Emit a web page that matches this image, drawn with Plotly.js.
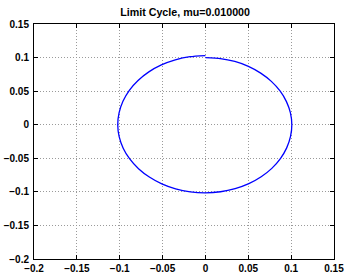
<!DOCTYPE html>
<html>
<head>
<meta charset="utf-8">
<script src="https://cdn.plot.ly/plotly-3.0.1.min.js"></script>
<style>html,body{margin:0;padding:0;background:#fff;}#chart{width:346px;height:273px;}</style>
</head>
<body>
<div id="chart"></div>
<script>
// Trajectory (x, dx/dt), clockwise from the top
var xs = [0, 0.01738, 0.03427, 0.05015, 0.06447, 0.07691, 0.08704, 0.09453, 0.09917, 0.1008,
  0.09927, 0.09481, 0.08747, 0.07745, 0.06505, 0.05065, 0.03465, 0.01761, 0,
  -0.01764, -0.03478, -0.0509, -0.06544, -0.07806, -0.08833, -0.09594, -0.10065, -0.1023,
  -0.10075, -0.09622, -0.08877, -0.0786, -0.06601, -0.0514, -0.03516, -0.01787, 0];
var ys = [0.1000, 0.09858, 0.09416, 0.08686, 0.07683, 0.06454, 0.05025, 0.03441, 0.01749, 0,
  -0.01750, -0.03451, -0.0505, -0.06499, -0.07752, -0.08773, -0.09519, -0.09986, -0.1015,
  -0.10006, -0.09557, -0.08816, -0.07798, -0.0655, -0.051, -0.03492, -0.01775, 0,
  0.01776, 0.03502, 0.05125, 0.06595, 0.07867, 0.08903, 0.0966, 0.10134, 0.1030];
var titleText = "Limit Cycle, mu=0.010000";
var tickVals = [-0.2, -0.15, -0.1, -0.05, 0, 0.05, 0.1, 0.15];
var tickText = ["\u22120.2", "\u22120.15", "\u22120.1", "\u22120.05", "0", "0.05", "0.1", "0.15"];

var fam = "Liberation Sans, Arial, Helvetica, sans-serif";
var fnt = {family: fam, size: 10, color: "#000", weight: "bold"};
var axisCommon = {
  range: [-0.2, 0.15],
  tickvals: tickVals,
  ticktext: tickText,
  ticks: "inside",
  ticklen: 4,
  tickwidth: 1,
  tickcolor: "#000",
  showline: true,
  linecolor: "#000",
  linewidth: 1,
  mirror: "ticks",
  showgrid: true,
  gridcolor: "#9a9a9a",
  griddash: "1px,2px",
  gridwidth: 1,
  zeroline: false,
  tickfont: fnt,
  fixedrange: true
};
var xaxis = Object.assign({}, axisCommon, {ticklabelstandoff: 0});
var yaxis = Object.assign({}, axisCommon, {ticklabelstandoff: 2});

Plotly.newPlot("chart", [{
  x: xs, y: ys, type: "scatter", mode: "lines",
  line: {color: "#0000ff", width: 1.3, shape: "spline", smoothing: 0.6},
  hoverinfo: "none"
}], {
  width: 346, height: 273,
  margin: {l: 34, r: 12, t: 24, b: 14, pad: 0},
  paper_bgcolor: "#fff", plot_bgcolor: "#fff",
  showlegend: false,
  title: {text: titleText, font: {family: fam, size: 10.7, color: "#000", weight: "bold"}, x: 0.535, xanchor: "center", y: 0.955, yanchor: "middle"},
  xaxis: xaxis,
  yaxis: yaxis
}, {displayModeBar: false, staticPlot: true});
</script>
</body>
</html>
